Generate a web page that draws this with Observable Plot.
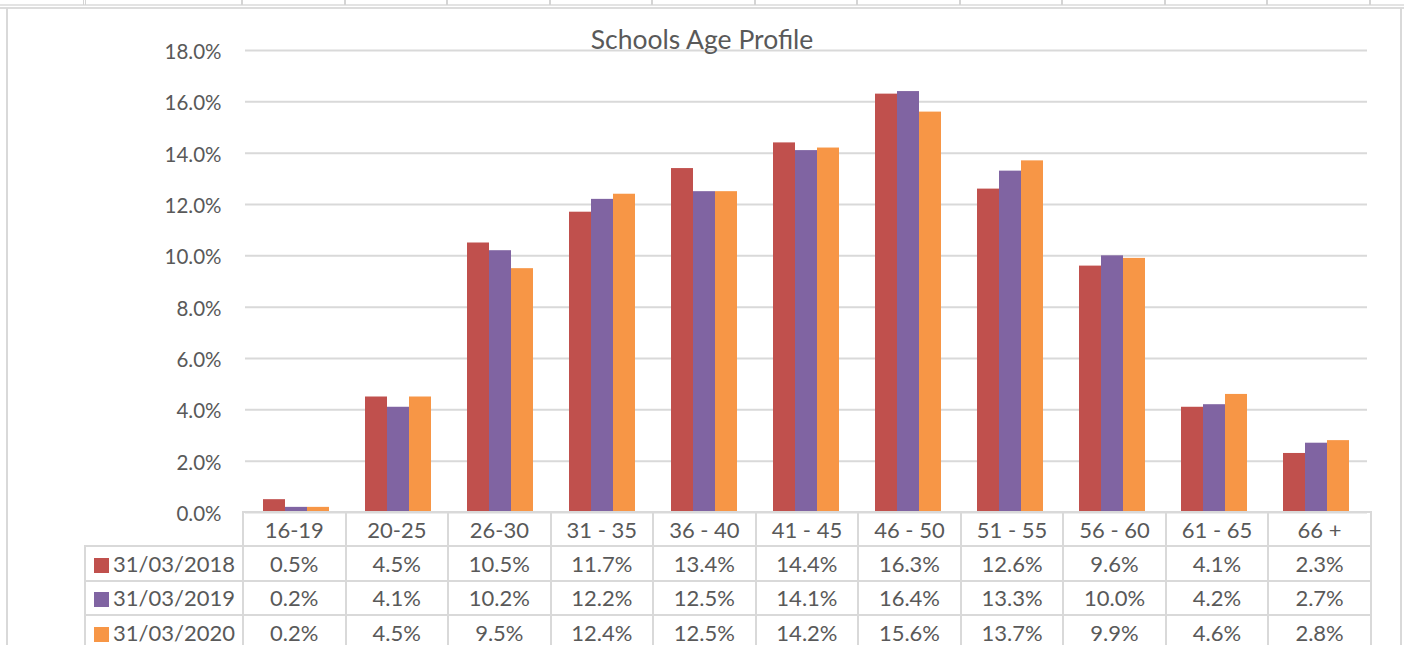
<!DOCTYPE html>
<html>
<head>
<meta charset="utf-8">
<script src="https://cdn.jsdelivr.net/npm/d3@7"></script>
<script src="https://cdn.jsdelivr.net/npm/@observablehq/plot@0.6"></script>
<style>
  html, body { margin: 0; padding: 0; background: #fff; }
  body { width: 1404px; height: 645px; position: relative; overflow: hidden; font-family: Lato, "Open Sans", sans-serif; color: #595959; }
  .abs { position: absolute; }
  #chart { position: absolute; left: 0; top: 0; }
  #title { position: absolute; left: 0; width: 1404px; top: 23px; text-align: center; font-size: 26.5px; color: #595959; }
  table.dt { position: absolute; left: 84px; top: 511px; border-collapse: collapse; font-size: 22px; color: #595959; table-layout: fixed; }
  table.dt td { border: 2px solid #d9d9d9; text-align: center; padding: 0; white-space: nowrap; overflow: hidden; }
  table.dt td.blank { border: none; border-right: 2px solid #d9d9d9; }
  table.dt td.lab { text-align: left; padding-left: 8px; }
  .sw { display: inline-block; width: 15px; height: 15px; margin-right: 4px; vertical-align: -1px; }
</style>
</head>
<body>
<div id="deco"></div>
<div id="chart"></div>
<div id="title">Schools Age Profile</div>
<script>
// ---- data ----
const categories = ["16-19", "20-25", "26-30", "31 - 35", "36 - 40", "41 - 45", "46 - 50", "51 - 55", "56 - 60", "61 - 65", "66 +"];
const seriesNames = ["31/03/2018", "31/03/2019", "31/03/2020"];
const values2018 = [0.5, 4.5, 10.5, 11.7, 13.4, 14.4, 16.3, 12.6, 9.6, 4.1, 2.3];
const values2019 = [0.2, 4.1, 10.2, 12.2, 12.5, 14.1, 16.4, 13.3, 10.0, 4.2, 2.7];
const values2020 = [0.2, 4.5, 9.5, 12.4, 12.5, 14.2, 15.6, 13.7, 9.9, 4.6, 2.8];
const seriesColors = ["#C0504D", "#8064A2", "#F79646"];
const yTicks = [0, 2, 4, 6, 8, 10, 12, 14, 16, 18];

const seriesValues = [values2018, values2019, values2020];
const rows = [];
seriesNames.forEach((s, si) => categories.forEach((c, ci) => rows.push({category: c, series: s, value: seriesValues[si][ci]})));

// ---- page decoration (spreadsheet frame) ----
const deco = document.getElementById("deco");
function box(l, t, w, h, bg) {
  const d = document.createElement("div");
  d.className = "abs";
  Object.assign(d.style, {left: l + "px", top: t + "px", width: w + "px", height: h + "px", background: bg});
  deco.appendChild(d);
}
const W = 1404, H = 645;
const mLeft = 242, mRight = 34, mTop = 50, mBottom = 133;
const bandW = (W - mLeft - mRight) / categories.length;
// top cell strip
box(0, 4, W, 2, "#e3e3e3");
box(0, 7, W, 2, "#dcdcdc");
[83, 85].forEach(x => box(x, 0, 1, 5, "#d4d4d4"));
for (let i = 0; i <= categories.length; i++) box(Math.round(mLeft + i * bandW) - 1, 0, 2, 5, "#d4d4d4");
// chart border
box(6, 8, 2, H - 8, "#d9d9d9");
box(1400, 8, 2, H - 8, "#d9d9d9");

// ---- chart ----
const chart = Plot.plot({
  width: W,
  height: H,
  marginLeft: mLeft,
  marginRight: mRight,
  marginTop: mTop,
  marginBottom: mBottom,
  style: {fontFamily: "Lato, 'Open Sans', sans-serif", fontSize: "20px", color: "#595959", background: "transparent"},
  fx: {domain: categories, padding: 0, axis: null},
  x: {domain: seriesNames, paddingInner: 0, paddingOuter: 0.73, axis: null},
  y: {domain: [0, 18], axis: null},
  color: {domain: seriesNames, range: seriesColors},
  marks: [
    Plot.ruleY(yTicks, {stroke: "#d9d9d9", strokeWidth: 2, strokeOpacity: 1}),
    Plot.barY(rows, {fx: "category", x: "series", y: "value", fill: "series", inset: 0}),
    Plot.axisY(yTicks, {tickSize: 0, tickPadding: 24, label: null, tickFormat: d => d.toFixed(1) + "%", fill: "#595959", fontSize: 20.5, dy: 2})
  ]
});
document.getElementById("chart").appendChild(chart);

// ---- data table ----
const table = document.createElement("table");
table.className = "dt";
const colgroup = document.createElement("colgroup");
const c0 = document.createElement("col"); c0.style.width = (mLeft - 84) + "px"; colgroup.appendChild(c0);
categories.forEach(() => { const c = document.createElement("col"); c.style.width = bandW + "px"; colgroup.appendChild(c); });
table.appendChild(colgroup);
const hr = document.createElement("tr"); hr.style.height = "34px";
const blank = document.createElement("td"); blank.className = "blank"; hr.appendChild(blank);
categories.forEach(c => { const td = document.createElement("td"); td.textContent = c; hr.appendChild(td); });
table.appendChild(hr);
seriesNames.forEach((s, si) => {
  const tr = document.createElement("tr"); tr.style.height = "34.5px";
  const lab = document.createElement("td"); lab.className = "lab";
  const sw = document.createElement("span"); sw.className = "sw"; sw.style.background = seriesColors[si];
  lab.appendChild(sw); lab.appendChild(document.createTextNode(s));
  tr.appendChild(lab);
  seriesValues[si].forEach(v => { const td = document.createElement("td"); td.textContent = v.toFixed(1) + "%"; tr.appendChild(td); });
  table.appendChild(tr);
});
document.body.appendChild(table);
</script>
</body>
</html>
